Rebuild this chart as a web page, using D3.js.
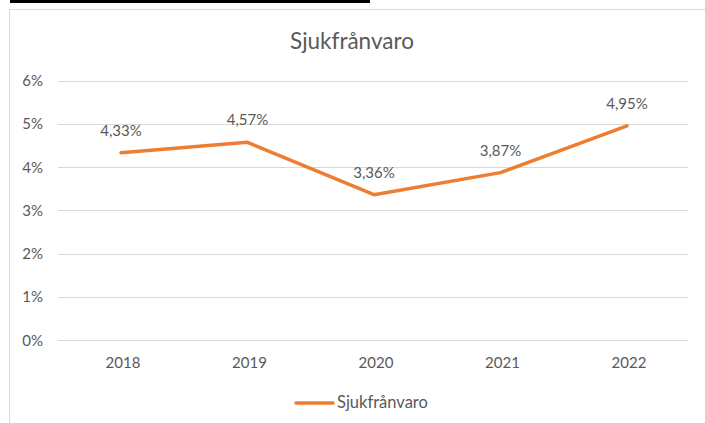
<!DOCTYPE html>
<html>
  <head>
    <meta charset="utf-8" />
    <script src="https://d3js.org/d3.v7.min.js"></script>
    <style>
      body { margin: 0; background: #fff; }
      text { font-family: Lato, "Open Sans", sans-serif; fill: #595959; }
    </style>
  </head>
  <body>
    <svg id="chart" width="705" height="423"></svg>
    <script>
      var years = ["2018", "2019", "2020", "2021", "2022"];
      var values = [4.33, 4.57, 3.36, 3.87, 4.95];
      var yTicks = [0, 1, 2, 3, 4, 5, 6];
      var seriesName = "Sjukfrånvaro";

      var svg = d3.select("#chart");

      // cut-off caption underline above the chart
      svg.append("rect").attr("x", 10).attr("y", 0).attr("width", 360).attr("height", 3).attr("fill", "#000");

      // chart area border
      svg.append("rect")
        .attr("x", 9.5).attr("y", 9.5).attr("width", 720).attr("height", 430)
        .attr("fill", "none").attr("stroke", "#d9d9d9");

      var x = d3.scalePoint().domain(years).range([121, 627]);
      var y = d3.scaleLinear().domain([0, 6]).range([340, 80.5]);

      // gridlines
      svg.selectAll(".grid").data(yTicks).enter().append("line")
        .attr("x1", 58).attr("x2", 688)
        .attr("y1", function(d) { return Math.round(y(d)) + 0.5; })
        .attr("y2", function(d) { return Math.round(y(d)) + 0.5; })
        .attr("stroke", "#d9d9d9").attr("stroke-width", 1);

      // y labels
      svg.selectAll(".ylab").data(yTicks).enter().append("text")
        .attr("x", 43).attr("y", function(d) { return y(d) + 5.5; })
        .attr("text-anchor", "end").attr("font-size", 15)
        .text(function(d) { return d + "%"; });

      // x labels
      svg.selectAll(".xlab").data(years).enter().append("text")
        .attr("x", function(d) { return x(d) + 2; }).attr("y", 368)
        .attr("text-anchor", "middle").attr("font-size", 15)
        .text(function(d) { return d; });

      // title
      svg.append("text").attr("x", 352).attr("y", 49)
        .attr("text-anchor", "middle").attr("font-size", 22.5)
        .text(seriesName);

      var line = d3.line()
        .x(function(d, i) { return x(years[i]); })
        .y(function(d) { return y(d); });

      svg.append("path").datum(values)
        .attr("d", line).attr("fill", "none")
        .attr("stroke", "#ED7D31").attr("stroke-width", 3.5)
        .attr("stroke-linecap", "round").attr("stroke-linejoin", "round");

      // data labels
      svg.selectAll(".dlab").data(values).enter().append("text")
        .attr("x", function(d, i) { return x(years[i]); })
        .attr("y", function(d) { return y(d) - 17; })
        .attr("text-anchor", "middle").attr("font-size", 15)
        .text(function(d) { return d.toFixed(2).replace(".", ",") + "%"; });

      // legend
      svg.append("line").attr("x1", 296).attr("x2", 333).attr("y1", 403).attr("y2", 403)
        .attr("stroke", "#ED7D31").attr("stroke-width", 3.5).attr("stroke-linecap", "round");
      svg.append("text").attr("x", 337).attr("y", 408).attr("font-size", 16.5).text(seriesName);
    </script>
  </body>
</html>
